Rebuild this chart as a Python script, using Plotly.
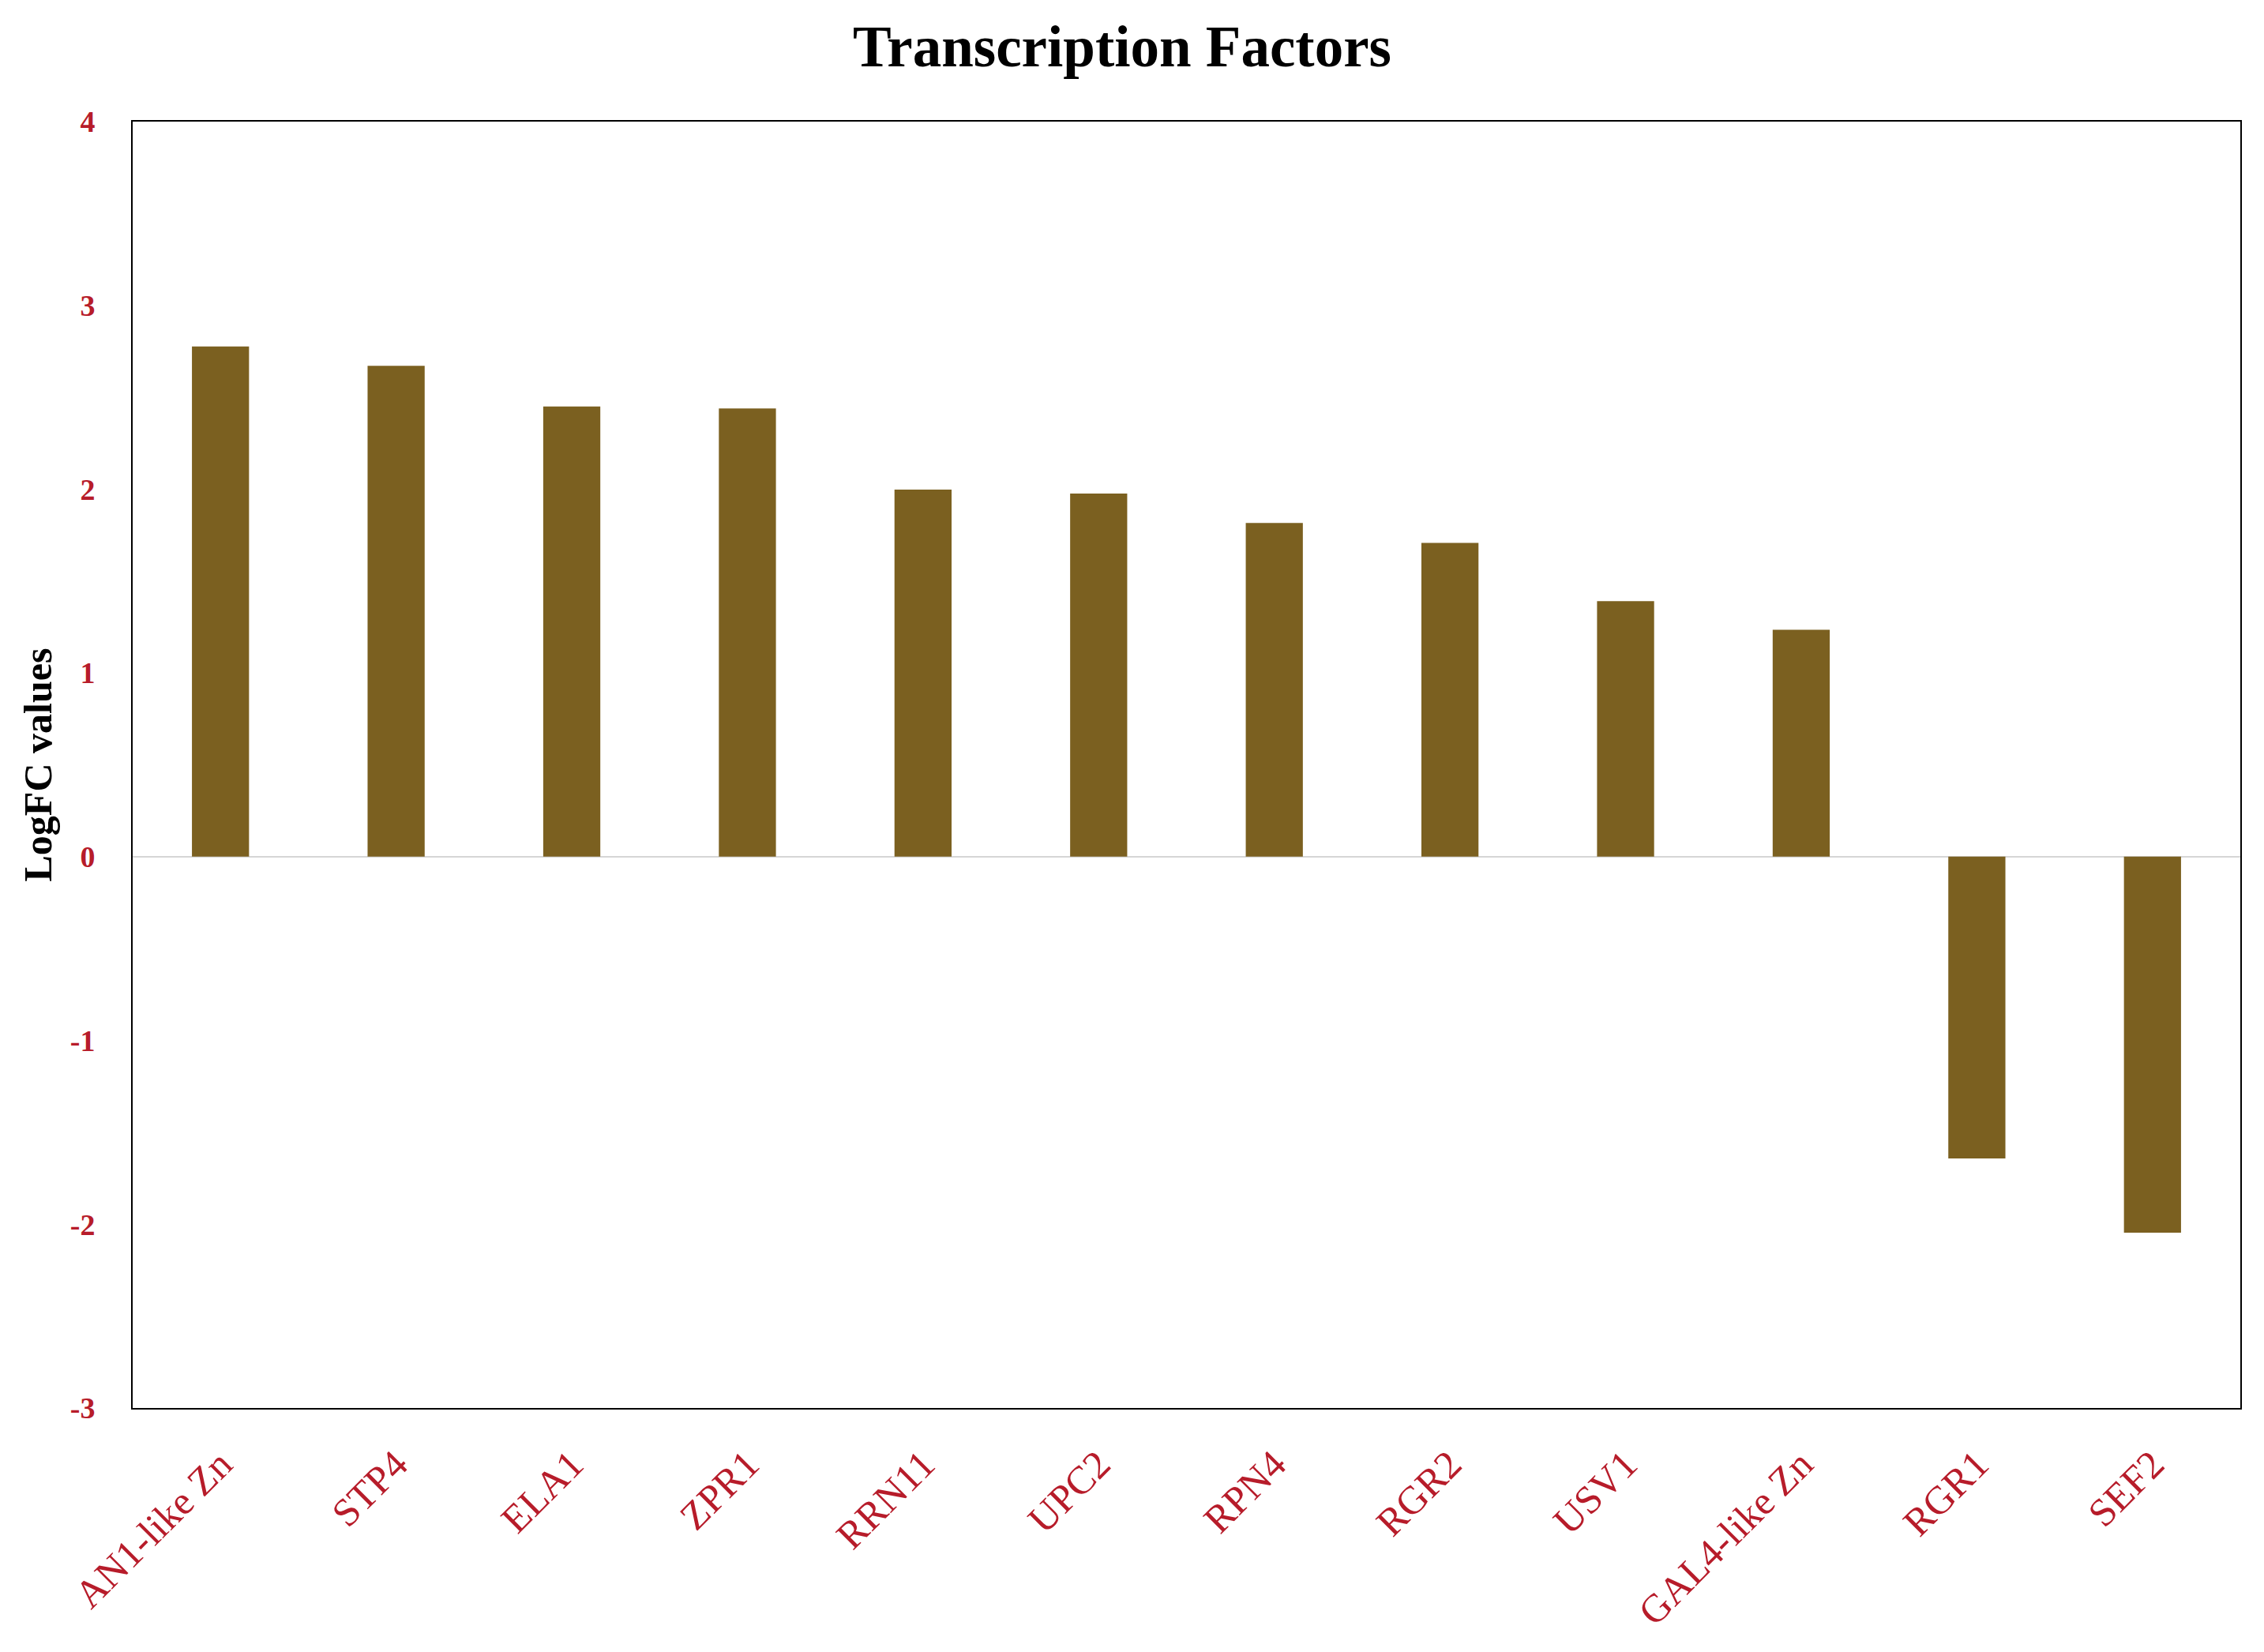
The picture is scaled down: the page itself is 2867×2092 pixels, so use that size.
import plotly.graph_objects as go

categories = ["AN1-like Zn", "STP4", "ELA1", "ZPR1", "RRN11", "UPC2",
              "RPN4", "RGR2", "USV1", "GAL4-like Zn", "RGR1", "SEF2"]
logfc = [2.776, 2.671, 2.450, 2.439, 1.998, 1.976,
         1.816, 1.707, 1.391, 1.235, -1.642, -2.046]
y_ticks = [-3, -2, -1, 0, 1, 2, 3, 4]

BAR = "#7B6020"
RED = "#B71C2A"
SERIF = "Liberation Serif"

fig = go.Figure(go.Bar(x=categories, y=logfc, width=0.325,
                       marker=dict(color=BAR, line=dict(width=0))))

fig.update_layout(
    width=2867, height=2092,
    margin=dict(l=168, r=30, t=154, b=309, autoexpand=False),
    paper_bgcolor="white", plot_bgcolor="white",
    showlegend=False,
    title=dict(text="<b>Transcription Factors</b>", x=1421 / 2867, xanchor="center",
               y=1 - 58 / 2092, yanchor="middle",
               font=dict(family=SERIF, size=73, color="black")),
    font=dict(family=SERIF),
)

fig.update_xaxes(
    type="category", range=[-0.5, 11.5], automargin=False,
    tickangle=-45, tickfont=dict(family=SERIF, size=50, color=RED),
    showline=True, linecolor="black", linewidth=2, mirror=True,
    showgrid=False, ticks="", ticklabelstandoff=20,
)

fig.update_yaxes(
    range=[-3, 4], tickvals=y_ticks, ticktext=[f"<b>{v}</b>" for v in y_ticks],
    automargin=False,
    tickfont=dict(family=SERIF, size=38, color=RED),
    showline=True, linecolor="black", linewidth=2, mirror=True,
    showgrid=False, ticks="", ticklabelstandoff=38,
    zeroline=True, zerolinecolor="#D6D6D6", zerolinewidth=2,
)

fig.add_annotation(text="<b>LogFC values</b>", textangle=-90,
                   xref="paper", yref="paper", x=(47 - 168) / 2669, y=0.5,
                   xanchor="center", yanchor="middle", showarrow=False,
                   font=dict(family=SERIF, size=50, color="black"))

fig.write_html("out.html", config={"displayModeBar": False},
               post_script="document.body.style.margin='0';document.body.style.overflow='hidden';")
